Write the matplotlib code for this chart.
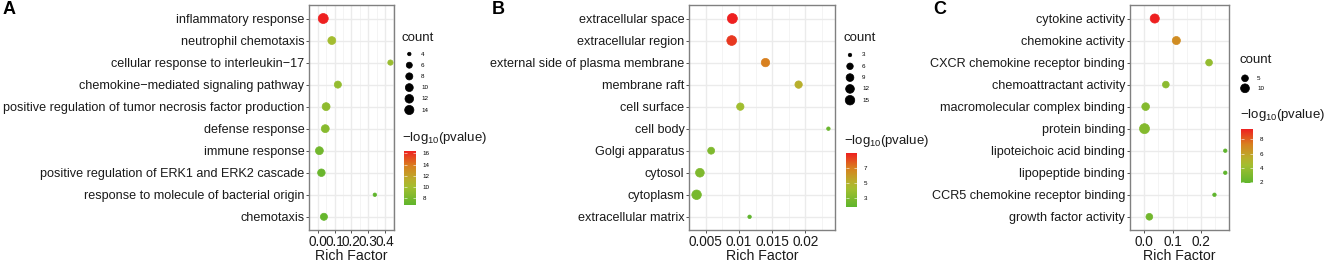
import numpy as np
import matplotlib
matplotlib.use("Agg")
import matplotlib.pyplot as plt
from matplotlib.colors import LinearSegmentedColormap, Normalize

plt.rcParams['font.family'] = ['Liberation Sans', 'DejaVu Sans']
plt.rcParams['mathtext.fontset'] = 'custom'
plt.rcParams['mathtext.rm'] = 'Liberation Sans'
plt.rcParams['mathtext.it'] = 'Liberation Sans:italic'

# ---- data ----
terms_a = ["inflammatory response", "neutrophil chemotaxis",
           "cellular response to interleukin\u221217",
           "chemokine\u2212mediated signaling pathway",
           "positive regulation of tumor necrosis factor production",
           "defense response", "immune response",
           "positive regulation of ERK1 and ERK2 cascade",
           "response to molecule of bacterial origin", "chemotaxis"]
rich_a = [0.033, 0.084, 0.433, 0.12, 0.05, 0.045, 0.01, 0.022, 0.34, 0.037]
count_a = [17, 10, 5, 8, 10, 10, 10, 9, 4, 8]
logp_a = [16.5, 10.0, 9.5, 9.2, 9.0, 8.6, 7.6, 7.2, 6.7, 7.0]
ticks_a = [0.0, 0.1, 0.2, 0.3, 0.4]
ticklab_a = ["0.0", "0.1", "0.2", "0.3", "0.4"]
sizebrk_a = [4, 6, 8, 10, 12, 14]
cbrk_a = [8, 10, 12, 14, 16]

terms_b = ["extracellular space", "extracellular region",
           "external side of plasma membrane", "membrane raft", "cell surface",
           "cell body", "Golgi apparatus", "cytosol", "cytoplasm",
           "extracellular matrix"]
rich_b = [0.0090, 0.0089, 0.0140, 0.0190, 0.0102, 0.0235, 0.0058, 0.0041, 0.0036, 0.0116]
count_b = [17, 16, 11, 8, 8, 3, 7, 12, 15, 3]
logp_b = [9.0, 8.5, 7.0, 5.2, 4.2, 2.3, 3.0, 3.0, 2.7, 1.9]
ticks_b = [0.005, 0.01, 0.015, 0.02]
ticklab_b = ["0.005", "0.01", "0.015", "0.02"]
sizebrk_b = [3, 6, 9, 12, 15]
cbrk_b = [3, 5, 7]

terms_c = ["cytokine activity", "chemokine activity",
           "CXCR chemokine receptor binding", "chemoattractant activity",
           "macromolecular complex binding", "protein binding",
           "lipoteichoic acid binding", "lipopeptide binding",
           "CCR5 chemokine receptor binding", "growth factor activity"]
rich_c = [0.037, 0.113, 0.228, 0.076, 0.005, 0.001, 0.285, 0.285, 0.247, 0.018]
count_c = [11, 8, 5, 5, 7, 14, 2, 2, 2, 5]
logp_c = [9.46, 6.8, 3.8, 3.5, 3.2, 3.2, 1.8, 1.8, 1.8, 2.5]
ticks_c = [0.0, 0.1, 0.2]
ticklab_c = ["0.0", "0.1", "0.2"]
sizebrk_c = [5, 10]
cbrk_c = [2, 4, 6, 8]

W, H = 1325, 263
fig = plt.figure(figsize=(W / 100, H / 100), dpi=100)

cmap = LinearSegmentedColormap.from_list(
    "gr", [(0.0, "#5FB52C"), (0.33, "#A3BE30"), (0.47, "#B9AE2C"),
           (0.72, "#D8801F"), (1.0, "#EE2020")])


def px_axes(x0, y0, x1, y1):
    return fig.add_axes([x0 / W, 1 - y1 / H, (x1 - x0) / W, (y1 - y0) / H])


def diam(c, cmin, cmax, dmin=3.5, dmax=10.0):
    # area-like mapping as ggplot's scale_size
    c = np.asarray(c, float)
    return dmin + (dmax - dmin) * np.sqrt((c - cmin) / (cmax - cmin))


def to_s(d):
    return (np.asarray(d) * 0.72) ** 2


ov = fig.add_axes([0, 0, 1, 1], zorder=5)
ov.set_xlim(0, W)
ov.set_ylim(H, 0)
ov.axis("off")

panels = [
    ("A", terms_a, rich_a, count_a, logp_a, ticks_a, ticklab_a, sizebrk_a, cbrk_a,
     (309.3, 394), 3, (402, 38, 409.3, 54, 11.2, 421, 138, (404.3, 150.7, 415.7, 205))),
    ("B", terms_b, rich_b, count_b, logp_b, ticks_b, ticklab_b, sizebrk_b, cbrk_b,
     (689.3, 835), 492, (844, 38, 850, 55, 11.3, 862, 141, (846, 153, 856.7, 206.7))),
    ("C", terms_c, rich_c, count_c, logp_c, ticks_c, ticklab_c, sizebrk_c, cbrk_c,
     (1130, 1229.3), 933, (1240, 60, 1245, 78.3, 10.0, 1257, 115, (1241, 129, 1252.7, 183.3))),
]

for (letter, terms, rich, cnt, logp, ticks, ticklab, sbrk, cbrk, (ax0, ax1), lx,
     (ltx, lty, dx, dy0, dstep, labx, cty, cbox)) in panels:
    ax = px_axes(ax0, 5.3, ax1, 230)
    ypos = np.arange(len(terms))
    cmin, cmax = min(cnt), max(cnt)
    norm = Normalize(min(logp), max(logp))
    ax.grid(True, which="major", color="#EBEBEB", lw=1.0, zorder=0)
    ax.grid(True, which="minor", axis="x", color="#F2F2F2", lw=0.6, zorder=0)
    sc = ax.scatter(rich, ypos, s=to_s(diam(cnt, cmin, cmax)), c=logp, cmap=cmap,
                    norm=norm, zorder=3, linewidths=0.5, edgecolors="face")
    ax.set_yticks(ypos)
    ax.set_yticklabels(terms, fontsize=9.1, color="#1a1a1a")
    ax.set_ylim(len(terms) - 0.4, -0.6)
    rng = max(rich) - min(rich)
    ax.set_xlim(min(rich) - 0.05 * rng, max(rich) + 0.05 * rng)
    ax.set_xticks(ticks)
    ax.set_xticklabels(ticklab, fontsize=9.8, color="#1a1a1a")
    step = ticks[1] - ticks[0]
    ax.set_xticks(np.arange(ticks[0] - step / 2, ticks[-1] + step, step), minor=True)
    ax.tick_params(which="minor", length=0)
    ax.tick_params(which="major", length=2.5, width=0.6, color="#333333", pad=1)
    ax.set_xlabel("Rich Factor", fontsize=10.2, labelpad=0, color="#1a1a1a")
    for sp in ax.spines.values():
        sp.set_color("#808080")
        sp.set_linewidth(1.0)
    ax.set_axisbelow(True)

    # panel letter
    ov.text(lx, 1.5, letter, fontsize=13, fontweight="bold", va="top", ha="left")

    # size legend
    ov.text(ltx, lty, "count", fontsize=9.5, va="center", ha="left", color="#1a1a1a")
    ly = dy0 + dstep * np.arange(len(sbrk))
    ov.scatter([dx] * len(sbrk), ly, s=to_s(diam(sbrk, cmin, cmax)), c="black",
               linewidths=0.5, edgecolors="black")
    for v, yy in zip(sbrk, ly):
        ov.text(labx, yy, str(v), fontsize=4.5, va="center", ha="left")

    # colour bar
    ov.text(ltx, cty, r"$\mathrm{-log_{10}}$(pvalue)", fontsize=9.5, va="center",
            ha="left", color="#1a1a1a")
    cax = px_axes(*cbox)
    cb = fig.colorbar(sc, cax=cax, ticks=cbrk)
    cb.outline.set_visible(False)
    cb.ax.tick_params(length=2, width=0.4, color="white", direction="in",
                      labelsize=4.5, pad=5)
    cb.ax.yaxis.set_ticks_position("both")
    cb.ax.tick_params(labelleft=False)

fig.savefig("out.png", dpi=100)
